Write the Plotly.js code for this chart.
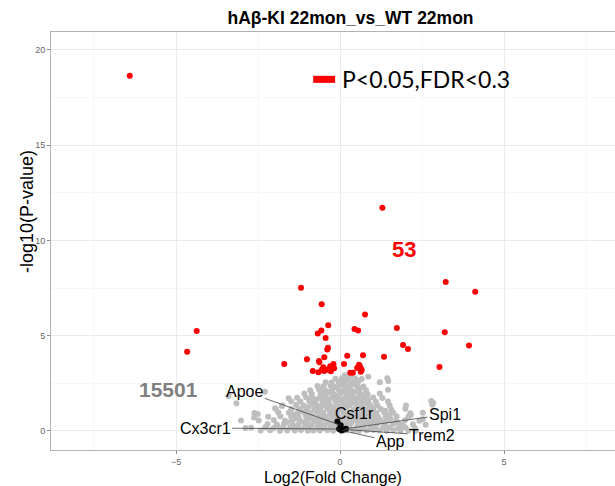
<!DOCTYPE html>
<html>
<head>
<meta charset="utf-8">
<script src="https://cdn.plot.ly/plotly-3.0.1.min.js"></script>
<style>html,body{margin:0;padding:0;background:#fff;}#chart{width:615px;height:486px;}</style>
</head>
<body>
<div id="chart"></div>
<script>
// Significant genes (P<0.05, FDR<0.3)
const redX = [-6.41, 1.29, 3.22, 4.12, -1.19, -0.56, 0.76, -4.37, -4.66, -0.36,
  -0.57, -0.68, 0.44, 0.55, 1.73, 3.19, -0.44, -0.37, -0.39, 1.92,
  2.07, 3.93, -1.70, -1.01, -0.64, -0.63, -0.48, 0.22, 0.70, 1.34,
  3.03, -0.83, -0.66, -0.51, -0.49, -0.36, -0.20, -0.18, -0.28, 0.12,
  0.31, 0.39, 0.58, 0.61, 0.66, 0.63, 0.56, -0.42, -0.30, 0.60,
  0.64, -0.55, 0.52];
const redY = [18.65, 11.72, 7.82, 7.31, 7.52, 6.65, 6.11, 5.25, 4.16, 5.55,
  5.27, 5.11, 5.35, 5.27, 5.41, 5.18, 4.88, 4.37, 4.27, 4.51,
  4.30, 4.48, 3.52, 3.76, 3.67, 3.61, 3.87, 3.95, 3.97, 3.90,
  3.36, 3.15, 3.08, 3.34, 3.15, 3.24, 3.52, 3.29, 3.13, 3.52,
  3.06, 3.06, 3.48, 3.29, 3.20, 3.11, 3.38, 3.20, 3.40, 3.42,
  3.25, 3.22, 3.30];

// Non-significant genes (sampled reading of the grey cloud)
const grayX = [
  -2.42,-2.13,-1.83,-1.61,-1.38,-1.19,-0.98,-0.81,-0.62,-0.39,-0.21,0.02,0.19,0.41,0.58,0.81,1.02,1.19,1.42,1.63,1.84,2.08,2.31,
  -2.71,-2.28,-2.02,-1.74,-1.52,-1.29,-1.08,-0.91,-0.69,-0.52,-0.29,-0.11,0.12,0.28,0.51,0.69,0.92,1.08,1.31,1.49,1.77,1.98,2.27,
  -2.21,-1.93,-1.71,-1.44,-1.26,-1.04,-0.86,-0.63,-0.46,-0.24,-0.06,0.16,0.33,0.56,0.74,0.96,1.13,1.36,1.61,1.83,2.22,
  -2.48,-2.02,-1.68,-1.46,-1.21,-0.99,-0.79,-0.61,-0.38,-0.19,0.01,0.21,0.39,0.62,0.79,1.01,1.22,1.44,1.71,1.98,2.42,
  -2.19,-1.82,-1.49,-1.26,-1.04,-0.84,-0.66,-0.44,-0.26,-0.04,0.14,0.36,0.54,0.76,0.94,1.16,1.39,1.72,2.08,
  -2.61,-1.88,-1.56,-1.31,-1.09,-0.91,-0.69,-0.51,-0.29,-0.09,0.11,0.31,0.49,0.71,0.89,1.11,1.34,1.62,2.14,2.52,
  -1.96,-1.49,-1.24,-1.01,-0.79,-0.61,-0.39,-0.21,0.01,0.19,0.41,0.59,0.81,1.01,1.24,1.56,1.99,
  -1.76,-1.34,-1.11,-0.89,-0.71,-0.49,-0.31,-0.09,0.11,0.29,0.51,0.69,0.91,1.14,1.51,2.01,2.81,
  -1.49,-1.21,-0.94,-0.76,-0.54,-0.36,-0.14,0.06,0.24,0.46,0.64,0.86,1.09,1.46,2.78,
  -1.31,-1.04,-0.86,-0.64,-0.46,-0.24,-0.06,0.16,0.34,0.56,0.74,1.01,1.29,
  -1.09,-0.86,-0.59,-0.41,-0.19,0.01,0.21,0.39,0.61,0.84,1.21,
  -0.91,-0.64,-0.46,-0.24,-0.04,0.16,0.34,0.56,0.79,1.46,
  -0.69,-0.51,-0.29,-0.11,0.11,0.29,0.51,0.71,
  -0.44,-0.26,-0.04,0.16,0.34,0.54,1.21,
  -0.14,0.06,0.24,0.46,0.66,1.44,
  0.14,0.31,0.86,
  -3.16,-3.40,-2.29,-2.51,-1.98,2.84,2.16,-1.77,-3.02,2.61,-2.88,1.47,-2.62,2.52,-1.57,
  -1.91,-1.42,-1.01,-0.58,-0.22,0.18,0.61,1.03,1.38,1.92,
  -1.62,-1.09,-0.71,-0.32,0.08,0.52,0.88,1.31,1.76,
  -1.36,-0.91,-0.49,-0.12,0.31,0.68,1.12,1.53,
  -1.41,-0.96,-0.56,-0.14,0.26,0.63,1.06,1.49,
  -1.18,-0.72,-0.31,0.09,0.52,0.91,1.38,
  -0.98,-0.62,-0.18,0.21,0.58,1.02,
  -0.84,-0.44,-0.06,0.36,0.76,
  -0.74,-0.36,0.04,0.46,0.84,
  -0.51,-0.12,0.31,0.69,
  -0.34,0.06,0.44,
  -0.21,0.19,0.61,
  0.01,0.41,
  0.09,0.56];
const grayY = [
  0.02,0.04,0.01,0.03,0.02,0.05,0.01,0.03,0.02,0.04,0.01,0.03,0.02,0.04,0.01,0.03,0.05,0.02,0.01,0.04,0.02,0.03,0.01,
  0.17,0.19,0.16,0.20,0.18,0.15,0.19,0.17,0.20,0.16,0.18,0.19,0.17,0.16,0.20,0.18,0.15,0.19,0.17,0.18,0.16,0.20,0.17,
  0.36,0.34,0.37,0.33,0.35,0.38,0.34,0.36,0.33,0.37,0.35,0.34,0.38,0.36,0.33,0.35,0.37,0.34,0.36,0.33,0.35,
  0.55,0.57,0.53,0.56,0.54,0.58,0.55,0.53,0.57,0.56,0.54,0.55,0.58,0.53,0.56,0.54,0.57,0.55,0.53,0.56,0.54,
  0.74,0.77,0.75,0.73,0.76,0.78,0.74,0.75,0.77,0.73,0.76,0.75,0.74,0.78,0.76,0.73,0.75,0.77,0.74,
  0.94,0.97,0.95,0.93,0.96,0.94,0.98,0.95,0.93,0.96,0.94,0.97,0.95,0.93,0.96,0.94,0.98,0.95,0.93,0.96,
  1.16,1.14,1.17,1.15,1.13,1.16,1.18,1.14,1.15,1.17,1.13,1.16,1.14,1.17,1.15,1.13,1.16,
  1.34,1.36,1.33,1.37,1.35,1.34,1.38,1.36,1.33,1.35,1.37,1.34,1.36,1.33,1.35,1.34,1.37,
  1.56,1.54,1.57,1.55,1.53,1.56,1.58,1.54,1.55,1.57,1.53,1.56,1.54,1.55,1.57,
  1.74,1.77,1.75,1.73,1.76,1.74,1.78,1.75,1.73,1.76,1.74,1.75,1.73,
  1.96,1.94,1.97,1.95,1.93,1.96,1.98,1.94,1.95,1.93,1.96,
  2.14,2.17,2.15,2.13,2.16,2.18,2.14,2.15,2.13,2.16,
  2.36,2.34,2.37,2.35,2.38,2.34,2.36,2.33,
  2.56,2.54,2.57,2.58,2.55,2.53,2.56,
  2.74,2.77,2.78,2.75,2.73,2.76,
  2.92,2.88,2.85,
  1.45,1.84,2.06,0.89,1.19,1.47,0.84,1.31,0.55,0.32,0.16,2.62,0.71,0.62,1.72,
  0.27,0.26,0.28,0.25,0.27,0.29,0.26,0.28,0.25,0.27,
  0.46,0.45,0.47,0.44,0.46,0.48,0.45,0.46,0.44,
  0.65,0.66,0.64,0.67,0.65,0.63,0.66,0.64,
  0.85,0.86,0.84,0.87,0.85,0.83,0.86,0.84,
  1.05,1.06,1.04,1.07,1.05,1.03,1.06,
  1.25,1.26,1.24,1.27,1.25,1.23,
  1.45,1.46,1.44,1.47,1.45,
  1.65,1.66,1.64,1.67,1.65,
  1.85,1.86,1.84,1.87,
  2.05,2.06,2.04,
  2.25,2.26,2.24,
  2.45,2.46,
  2.65,2.64];

// Highlighted genes
const geneNames = ['Apoe', 'Csf1r', 'Spi1', 'Cx3cr1', 'Trem2', 'App'];
const geneX = [0.02, -0.08, 0.18, -0.03, 0.12, 0.05];
const geneY = [0.30, 0.49, 0.12, 0.10, 0.08, 0.03];

// Count labels
const nSig = 53;
const nNonSig = 15501;
const legendLabel = 'P&lt;0.05,FDR&lt;0.3';

const traces = [
  {type: 'scatter', mode: 'markers', x: grayX, y: grayY, hoverinfo: 'skip',
   marker: {color: '#bebebe', size: 6}, showlegend: false},
  {type: 'scatter', mode: 'markers', x: redX, y: redY,
   marker: {color: '#ff0000', size: 6}, showlegend: false},
  {type: 'scatter', mode: 'markers', x: geneX, y: geneY, text: geneNames,
   marker: {color: '#000000', size: 6}, showlegend: false}
];

// label offsets (pixels) for the gene labels
const labelOffsets = {
  Apoe: [-96, -34], Csf1r: [17, -8], Spi1: [99, -14],
  Cx3cr1: [-134, -1], Trem2: [88, 6], App: [49, 11]
};

const annotations = geneNames.map((g, i) => ({
  x: geneX[i], y: geneY[i], xref: 'x', yref: 'y',
  text: g, showarrow: true, arrowhead: 0, arrowwidth: 0.8, arrowcolor: '#444',
  ax: labelOffsets[g][0], ay: labelOffsets[g][1],
  font: {family: 'Liberation Sans, Arial, sans-serif', size: 16, color: '#000'}
}));

annotations.push({
  x: 1.95, y: 9.5, xref: 'x', yref: 'y', showarrow: false,
  text: '<b>' + nSig + '</b>',
  font: {family: 'Liberation Sans, Arial, sans-serif', size: 22, color: '#ff0000'}
});
annotations.push({
  x: -5.24, y: 2.15, xref: 'x', yref: 'y', showarrow: false,
  text: '<b>' + nNonSig + '</b>',
  font: {family: 'Liberation Sans, Arial, sans-serif', size: 21, color: '#808080'}
});
annotations.push({
  x: 0.0, y: 18.45, xref: 'x', yref: 'y', showarrow: false, xanchor: 'left',
  text: legendLabel,
  font: {family: 'Lato, Carlito, sans-serif', size: 23, color: '#000'}
});
// y-axis title placed as in the reference
annotations.push({
  x: 27, y: 212, xref: 'paper', yref: 'paper', showarrow: false,
  text: '-log10(P-value)', textangle: -90,
  font: {family: 'Liberation Sans, Arial, sans-serif', size: 18, color: '#000'}
});

const layout = {
  width: 615, height: 486,
  margin: {l: 51, r: 0, t: 32, b: 36},
  paper_bgcolor: '#ffffff', plot_bgcolor: '#ffffff',
  title: {
    text: '<b>hAβ-KI 22mon_vs_WT 22mon</b>',
    xref: 'container', yref: 'container', x: 0.57, y: 0.963,
    xanchor: 'center', yanchor: 'middle',
    font: {family: 'Liberation Sans, Arial, sans-serif', size: 17.5, color: '#000'}
  },
  xaxis: {
    range: [-8.81, 8.38], tick0: 0, dtick: 5, zeroline: false,
    showgrid: true, gridcolor: '#ebebeb', gridwidth: 1,
    minor: {dtick: 2.5, tick0: 0, showgrid: true, gridcolor: '#f5f5f5', gridwidth: 0.8, ticks: ''},
    showline: true, linecolor: '#b3b3b3', linewidth: 1, mirror: true,
    ticks: 'outside', ticklen: 3, tickcolor: '#888', tickwidth: 1,
    tickfont: {family: 'Liberation Sans, Arial, sans-serif', size: 9, color: '#666'},
    title: {text: 'Log2(Fold Change)', standoff: 8,
      font: {family: 'Liberation Sans, Arial, sans-serif', size: 16, color: '#000'}}
  },
  yaxis: {
    range: [-1.0, 20.94], tick0: 0, dtick: 5, zeroline: false,
    showgrid: true, gridcolor: '#ebebeb', gridwidth: 1,
    minor: {dtick: 2.5, tick0: 0, showgrid: true, gridcolor: '#f5f5f5', gridwidth: 0.8, ticks: ''},
    showline: true, linecolor: '#b3b3b3', linewidth: 1,
    ticks: 'outside', ticklen: 3, tickcolor: '#888', tickwidth: 1,
    tickfont: {family: 'Liberation Sans, Arial, sans-serif', size: 9, color: '#666'}
  },
  shapes: [{
    type: 'rect', xref: 'x', yref: 'y', x0: -0.82, x1: -0.15, y0: 18.27, y1: 18.64,
    fillcolor: '#ff0000', line: {width: 0}
  }],
  annotations: annotations,
  showlegend: false
};

// convert the y-title pixel position to paper coordinates
const yt = annotations[annotations.length - 1];
yt.x = (yt.x - 51) / 564;
yt.y = (450 - yt.y) / 418;
yt.xanchor = 'center';
yt.yanchor = 'middle';

Plotly.newPlot('chart', traces, layout, {displayModeBar: false, staticPlot: true});
</script>
</body>
</html>
